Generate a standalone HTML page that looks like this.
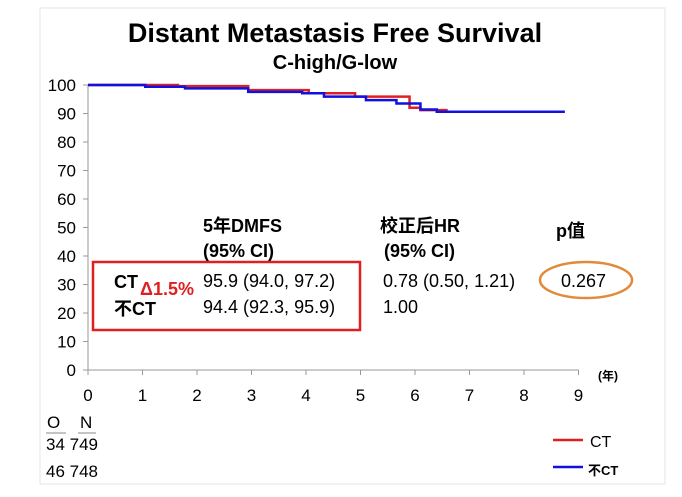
<!DOCTYPE html>
<html><head><meta charset="utf-8"><style>
body{margin:0;background:#fff}
svg text{font-family:"Liberation Sans","Noto Sans CJK SC",sans-serif}
</style></head><body>
<svg width="682" height="492">
<rect x="40" y="8" width="625" height="476" fill="none" stroke="#e4e4e4"/>
<text x="335" y="42" font-size="27" font-weight="bold" text-anchor="middle">Distant Metastasis Free Survival</text>
<text x="335" y="69" font-size="20" font-weight="bold" text-anchor="middle">C-high/G-low</text>
<g id="axes"></g>
<g id="series"></g>
<rect x="93" y="262" width="267" height="68" fill="none" stroke="#e02020" stroke-width="2.5"/>
<g font-size="18">
<text x="203" y="232" font-weight="bold">5年DMFS</text>
<text x="203" y="257" font-weight="bold">(95% CI)</text>
<text x="380" y="232" font-weight="bold">校正后HR</text>
<text x="384" y="257" font-weight="bold">(95% CI)</text>
<text x="556" y="237" font-weight="bold">p值</text>
<text x="114" y="288" font-weight="bold">CT</text>
<text x="114" y="315" font-weight="bold">不CT</text>
<text x="140" y="295" fill="#e02020" font-weight="bold">Δ1.5%</text>
<text x="203" y="287">95.9 (94.0, 97.2)</text>
<text x="203" y="313">94.4 (92.3, 95.9)</text>
<text x="383" y="287">0.78 (0.50, 1.21)</text>
<text x="383" y="313">1.00</text>
<text x="561" y="287">0.267</text>
</g>
<ellipse cx="586" cy="280" rx="46" ry="18" fill="none" stroke="#e08a3a" stroke-width="2.5"/>
<g font-size="17">
<text x="47" y="428">O</text><text x="80" y="428">N</text>
<line x1="46" y1="433" x2="66" y2="433" stroke="#888"/><line x1="78" y1="433" x2="96" y2="433" stroke="#888"/>
<text x="46" y="450">34 749</text>
<text x="46" y="477">46 748</text>
</g>
<g>
<line x1="553" y1="440" x2="583" y2="440" stroke="#e02020" stroke-width="2.5"/>
<text x="590" y="447" font-size="16">CT</text>
<line x1="553" y1="467" x2="583" y2="467" stroke="#1010e0" stroke-width="2.5"/>
<text x="588" y="475" font-size="13" font-weight="bold">不CT</text>
</g>
</svg>
<script>
const xTicks=[0,1,2,3,4,5,6,7,8,9];
const yTicks=[0,10,20,30,40,50,60,70,80,90,100];
const ctTimes=[0,1.65,2.94,4.05,4.9,5.9,6.1,6.6];
const ctSurv=[100,99.6,98.2,97.1,95.9,92.0,91.2,91.2];
const nctTimes=[0,1.05,1.78,2.94,3.93,4.33,5.1,5.66,6.1,6.4,8.75];
const nctSurv=[100,99.4,98.8,97.6,97.1,95.9,94.7,93.5,91.4,90.6,90.6];
const NS="http://www.w3.org/2000/svg";
const X=t=>88+t*54.5, Y=v=>370-v*2.85;
function mk(tag,attrs,parent){const e=document.createElementNS(NS,tag);for(const k in attrs)e.setAttribute(k,attrs[k]);parent.appendChild(e);return e;}
const ax=document.getElementById('axes');
let a=mk('line',{x1:X(0),y1:Y(0),x2:X(9),y2:Y(0),stroke:'#999'},ax);


a=mk('line',{x1:X(0),y1:Y(0),x2:X(0),y2:Y(100),stroke:'#999'},ax);


xTicks.forEach(t=>{mk('line',{x1:X(t),y1:Y(0),x2:X(t),y2:Y(0)+5,stroke:'#999'},ax);
const tx=mk('text',{x:X(t),y:401,'font-size':17,'text-anchor':'middle'},ax);tx.textContent=t;

});
yTicks.forEach(v=>{mk('line',{x1:X(0)-5,y1:Y(v),x2:X(0),y2:Y(v),stroke:'#999'},ax);
const tx=mk('text',{x:76,y:Y(v)+6,'font-size':17,'text-anchor':'end'},ax);tx.textContent=v;

});
const u=mk('text',{x:598,y:380,'font-size':12,'font-weight':'bold'},ax);u.textContent='(年)';


function step(ts,vs){let d='M'+X(ts[0])+','+Y(vs[0]);for(let i=1;i<ts.length;i++){d+=' H'+X(ts[i])+' V'+Y(vs[i]);}return d;}
const s=document.getElementById('series');
let p=mk('path',{d:step(ctTimes,ctSurv),fill:'none',stroke:'#e02020','stroke-width':2.5},s);


p=mk('path',{d:step(nctTimes,nctSurv),fill:'none',stroke:'#1010e0','stroke-width':2.5},s);


</script>
</body></html>
